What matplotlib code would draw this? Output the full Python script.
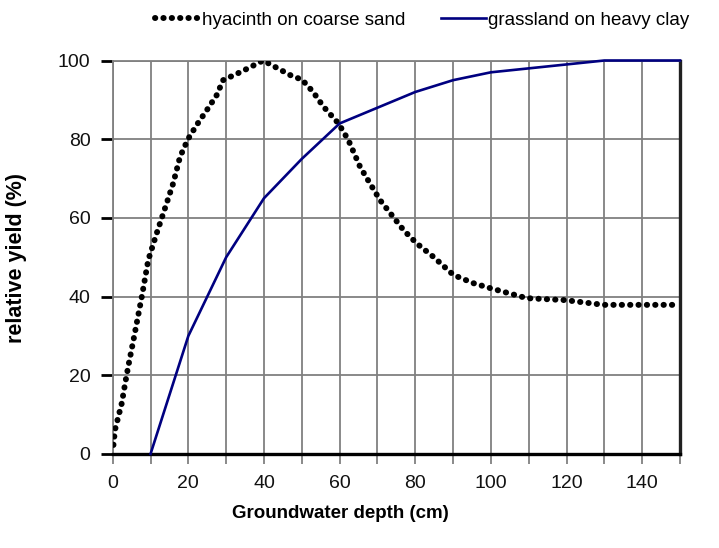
import matplotlib
matplotlib.use("Agg")
import matplotlib.pyplot as plt
from matplotlib.ticker import MultipleLocator

plt.rcParams['font.family'] = ['Liberation Sans', 'DejaVu Sans']

# Hyacinth on coarse sand
hy_depth = [0.2, 0.6, 2.4, 3.3, 4.1, 5.5, 7.7, 9.4, 11.6, 13.4, 16, 17.8, 19.9, 22.2,
            24.9, 27.5, 29.2, 34.1, 39.8, 47.7, 50, 53, 55.7, 59.7, 62.3, 65.4, 68,
            70.7, 73.4, 76.9, 80.4, 84.8, 90.1, 95.4, 100, 109.5, 119.7, 129.8, 139.9, 149.5]
hy_yield = [2.3, 6.1, 12.9, 18, 22.2, 29, 40, 49.3, 56, 61.2, 68.8, 75.5, 80, 83.6,
            87.4, 91.2, 95, 97.2, 100, 95.9, 95.2, 92, 88.3, 84, 79.8, 73, 68.8,
            64.5, 61.2, 56.9, 53.5, 50.1, 45.5, 43.4, 42.1, 39.6, 39.1, 37.9, 37.9, 37.9]

# Grassland on heavy clay
gr_depth = [10, 20, 30, 40, 50, 60, 70, 80, 90, 100, 110, 120, 130, 150]
gr_yield = [0, 30, 50, 65, 75, 84, 88, 92, 95, 97, 98, 99, 100, 100]

x_ticks = [0, 20, 40, 60, 80, 100, 120, 140]
y_ticks = [0, 20, 40, 60, 80, 100]

fig = plt.figure(figsize=(7.19, 5.48), dpi=100)
ax = fig.add_axes([112.7 / 719, (548 - 454) / 548, (680 - 112.7) / 719, (454 - 60.5) / 548])

ax.set_xlim(0, 150)
ax.set_ylim(0, 100)
ax.set_xticks(x_ticks)
ax.xaxis.set_minor_locator(MultipleLocator(10))
ax.set_yticks(y_ticks)

ax.grid(True, which='both', axis='x', color='#808080', linewidth=1.3)
ax.grid(True, which='major', axis='y', color='#808080', linewidth=1.3)
ax.set_axisbelow(True)

ax.plot(hy_depth, hy_yield, color='black', linestyle=(0, (0.05, 1.35)), linewidth=4.3,
        dash_capstyle='round', label='hyacinth on coarse sand', zorder=3)
ax.plot(gr_depth, gr_yield, color='#000080', linewidth=1.9,
        label='grassland on heavy clay', zorder=4, clip_on=False)

for s in ['left', 'top']:
    ax.spines[s].set_color('#808080')
    ax.spines[s].set_linewidth(1.3)
ax.spines['bottom'].set_color('black')
ax.spines['bottom'].set_linewidth(2.4)
ax.spines['right'].set_color('#202020')
ax.spines['right'].set_linewidth(2.4)

ax.tick_params(axis='y', which='major', length=9, width=2, color='black',
               labelsize=14, pad=7, labelcolor='#111111')
ax.tick_params(axis='x', which='both', length=7, width=1.3, color='#808080',
               labelsize=14, pad=8, labelcolor='#111111')

fig.text(340 / 719, (548 - 514) / 548, 'Groundwater depth (cm)', ha='center', va='center',
         fontsize=13.5, fontweight='bold')
fig.text(17 / 719, (548 - 258) / 548, 'relative yield (%)', ha='center', va='center',
         rotation=90, fontsize=15.5, fontweight='bold')

leg = fig.legend(loc='center left', bbox_to_anchor=(155 / 719, (548 - 20) / 548), ncol=2,
                 frameon=False, fontsize=13.5, handlelength=2.4, handletextpad=0.12,
                 columnspacing=1.9, borderaxespad=0, borderpad=0)

fig.savefig('out.png', dpi=100)
